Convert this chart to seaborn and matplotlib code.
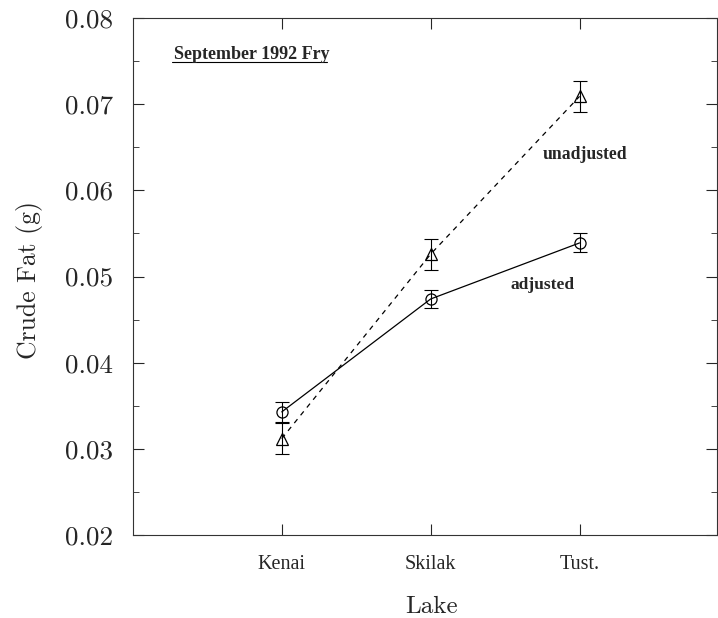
import numpy as np
import pandas as pd
import seaborn as sns
import matplotlib.pyplot as plt

# September 1992 fry, crude fat by lake
lakes = ["Kenai", "Skilak", "Tust."]
adjusted = [0.0343, 0.0474, 0.0539]
adjusted_se = [0.0012, 0.0010, 0.0011]
unadjusted = [0.0312, 0.0526, 0.0709]
unadjusted_se = [0.0018, 0.0018, 0.0018]

pos = np.arange(1, len(lakes) + 1)
df = pd.DataFrame({
    "pos": np.concatenate([pos, pos]),
    "fat": adjusted + unadjusted,
    "kind": ["adjusted"] * 3 + ["unadjusted"] * 3,
})

sns.set_style("ticks")
plt.rcParams['font.family'] = ['cmr10', 'DejaVu Serif']
plt.rcParams['axes.formatter.use_mathtext'] = True

fig = plt.figure(figsize=(7.18, 6.18), dpi=100)
ax = fig.add_axes([0.185, 0.134, 0.813, 0.837])

sns.lineplot(data=df, x="pos", y="fat", style="kind", hue="kind",
             palette={"adjusted": "black", "unadjusted": "black"},
             dashes={"adjusted": "", "unadjusted": (4, 4)},
             markers={"adjusted": "o", "unadjusted": "^"},
             markersize=8, markerfacecolor="none", markeredgecolor="black",
             markeredgewidth=0.9, linewidth=0.9, legend=False, ax=ax)

ax.errorbar(pos, adjusted, yerr=adjusted_se, fmt="none", ecolor="black",
            elinewidth=0.8, capsize=5, capthick=0.8)
ax.errorbar(pos, unadjusted, yerr=unadjusted_se, fmt="none", ecolor="black",
            elinewidth=0.8, capsize=5, capthick=0.8, linestyle="--")

ax.set_xlim(0, 3.92)
ax.set_ylim(0.02, 0.08)
ax.set_xticks(pos)
ax.set_xticklabels(lakes, family="Liberation Serif", fontsize=14.5)
yt = np.arange(0.02, 0.0801, 0.01)
ax.set_yticks(yt)
ax.set_yticklabels([f"{v:.2f}" for v in yt], fontsize=19.5)
ax.set_yticks(np.arange(0.025, 0.08, 0.01), minor=True)
ax.tick_params(direction="in", top=True, right=True, length=8, width=0.8, pad=14)
ax.tick_params(axis="x", pad=14)
ax.tick_params(which="minor", direction="in", right=True, length=4, width=0.6)

for s in ax.spines.values():
    s.set_linewidth(0.8)
    s.set_color("#333333")

ax.set_xlabel("Lake", fontsize=18)
ax.set_ylabel("Crude Fat (g)", fontsize=18.5)
ax.xaxis.set_label_coords(0.512, -0.118)
ax.yaxis.set_label_coords(-0.154, 0.493)

ax.text(0.07, 0.92, "September 1992 Fry", transform=ax.transAxes,
        family="Liberation Serif", fontweight="bold", fontsize=13)
ax.plot([0.067, 0.333], [0.914, 0.914], transform=ax.transAxes,
        color="black", linewidth=0.8)
ax.text(0.702, 0.728, "unadjusted", transform=ax.transAxes,
        family="Liberation Serif", fontweight="bold", fontsize=12.7)
ax.text(0.647, 0.475, "adjusted", transform=ax.transAxes,
        family="Liberation Serif", fontweight="bold", fontsize=12.5)

plt.savefig("out.png", dpi=100)
